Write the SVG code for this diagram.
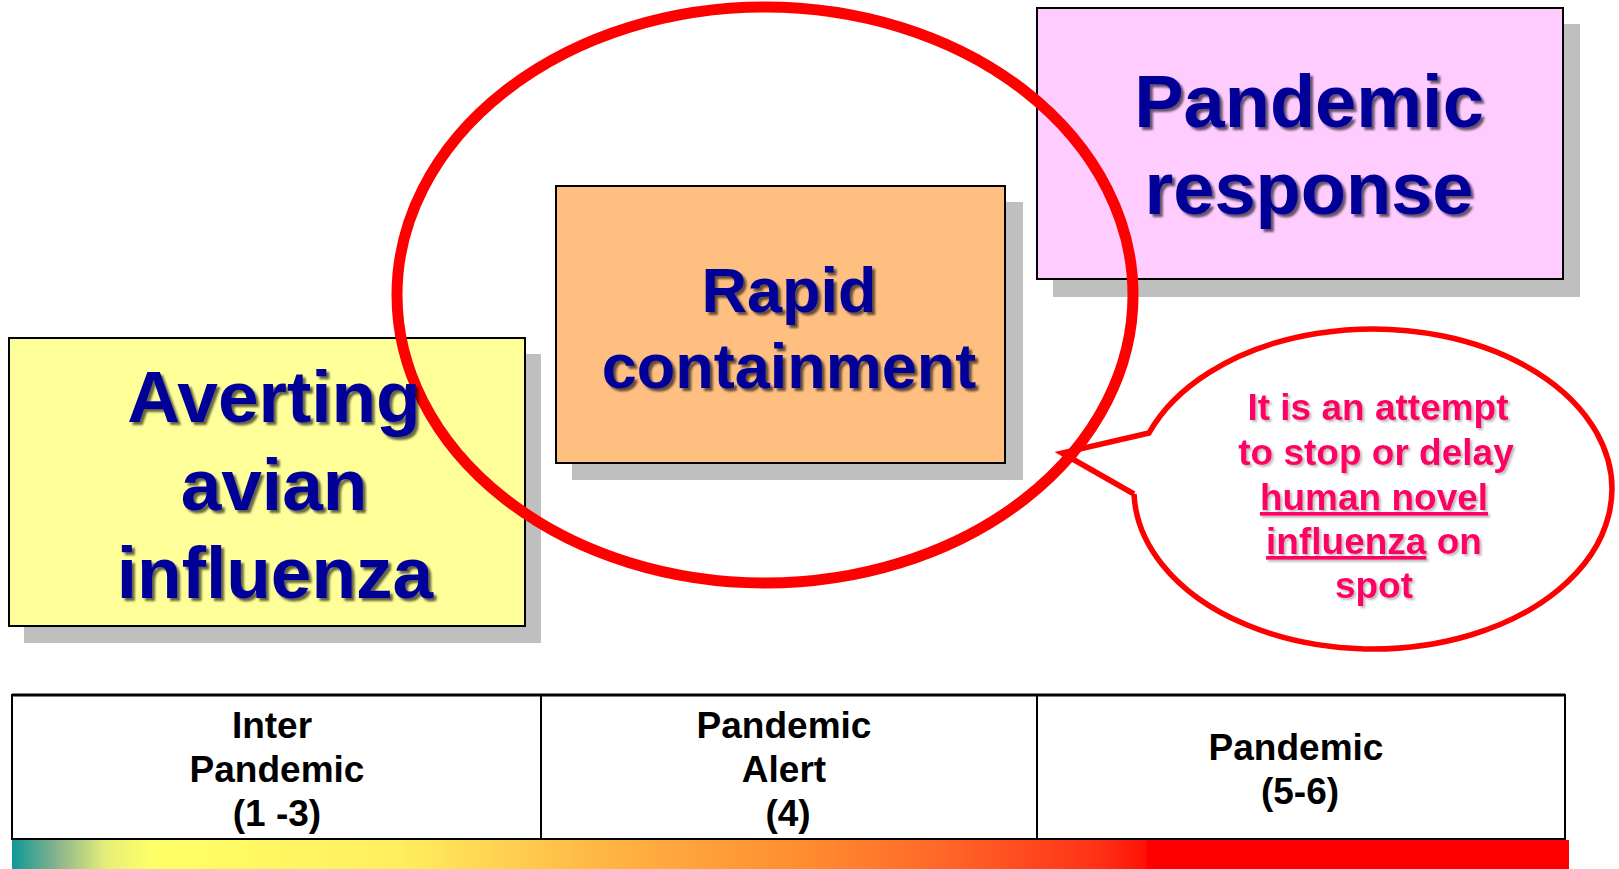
<svg xmlns="http://www.w3.org/2000/svg" width="1619" height="869" viewBox="0 0 1619 869">
  <defs>
    <filter id="navyShadow" x="-10%" y="-20%" width="120%" height="140%">
      <feDropShadow dx="3" dy="3" stdDeviation="1.3" flood-color="#000000" flood-opacity="0.6"/>
    </filter>
    <filter id="pinkShadow" x="-10%" y="-20%" width="120%" height="140%">
      <feDropShadow dx="2" dy="2" stdDeviation="1.2" flood-color="#777777" flood-opacity="0.5"/>
    </filter>
    <linearGradient id="phaseScale" gradientUnits="userSpaceOnUse" x1="12" y1="0" x2="1569" y2="0">
      <stop offset="0" stop-color="#0E9898"/>
      <stop offset="0.03" stop-color="#8DB58C"/>
      <stop offset="0.06" stop-color="#E4EE78"/>
      <stop offset="0.09" stop-color="#FFFF66"/>
      <stop offset="0.25" stop-color="#FFEE5E"/>
      <stop offset="0.38" stop-color="#FFB543"/>
      <stop offset="0.51" stop-color="#FF8C30"/>
      <stop offset="0.60" stop-color="#FF6628"/>
      <stop offset="0.70" stop-color="#FF2F16"/>
      <stop offset="0.728" stop-color="#FF1204"/>
      <stop offset="0.729" stop-color="#FF0000"/>
      <stop offset="1" stop-color="#FF0000"/>
    </linearGradient>
  </defs>
  <style>
    .shadow { fill: #BFBFBF; }
    .box { stroke: #000000; stroke-width: 2; }
    .title { font-family: "Liberation Sans", Arial, sans-serif; font-weight: bold; fill: #000099; text-anchor: middle; filter: url(#navyShadow); }
    .note { font-family: "Liberation Sans", Arial, sans-serif; font-weight: bold; font-size: 37px; fill: #FF0066; text-anchor: middle; filter: url(#pinkShadow); }
    .phase { font-family: "Liberation Sans", Arial, sans-serif; font-weight: bold; font-size: 37px; fill: #000000; text-anchor: middle; }
    .ring { fill: none; stroke: #FF0000; }
    .u { text-decoration: underline; }
  </style>

  <rect width="1619" height="869" fill="#FFFFFF"/>

  <!-- stage boxes -->
  <g id="averting-box">
    <rect class="shadow" x="24" y="354" width="517" height="289"/>
    <rect class="box" x="9" y="338" width="516" height="288" fill="#FFFF99"/>
  </g>
  <g id="response-box">
    <rect class="shadow" x="1053" y="24" width="527" height="273"/>
    <rect class="box" x="1037" y="8" width="526" height="271" fill="#FFCCFF"/>
  </g>
  <g id="containment-box">
    <rect class="shadow" x="572" y="202" width="451" height="278"/>
    <rect class="box" x="556" y="186" width="449" height="277" fill="#FFBF80"/>
  </g>

  <!-- connectors: highlight ring and its callout -->
  <g id="connectors">
    <ellipse class="ring" cx="765" cy="295" rx="368" ry="288" stroke-width="11"/>
    <path class="ring" stroke-width="5.5" stroke-linejoin="miter"
          d="M1134,494 L1062,453 L1149,433 A239,160 0 1 1 1134,494"/>
  </g>

  <!-- box labels -->
  <g id="averting-label">
    <text class="title" font-size="73" x="274" y="422">Averting</text>
    <text class="title" font-size="73" x="274" y="510">avian</text>
    <text class="title" font-size="73" x="275" y="598">influenza</text>
  </g>
  <g id="response-label">
    <text class="title" font-size="74" x="1309" y="127">Pandemic</text>
    <text class="title" font-size="74" x="1309" y="214">response</text>
  </g>
  <g id="containment-label">
    <text class="title" font-size="63" x="789" y="312">Rapid</text>
    <text class="title" font-size="63" x="789" y="388">containment</text>
  </g>

  <!-- callout text -->
  <g id="callout">
    <text class="note" x="1378" y="420">It is an attempt</text>
    <text class="note" x="1376" y="465">to stop or delay</text>
    <text class="note" x="1374" y="510"><tspan class="u">human novel</tspan></text>
    <text class="note" x="1374" y="554"><tspan class="u">influenza</tspan> on</text>
    <text class="note" x="1374" y="598">spot</text>
  </g>

  <!-- phase table -->
  <g id="phase-table">
    <rect x="12" y="695" width="1553" height="144" fill="#FFFFFF" stroke="#000000" stroke-width="2"/>
    <line x1="12" y1="695" x2="1565" y2="695" stroke="#000000" stroke-width="3"/>
    <line x1="541" y1="695" x2="541" y2="839" stroke="#000000" stroke-width="2"/>
    <line x1="1037" y1="695" x2="1037" y2="839" stroke="#000000" stroke-width="2"/>
  </g>
  <g id="phase-inter">
    <text class="phase" x="272" y="738">Inter</text>
    <text class="phase" x="277" y="782">Pandemic</text>
    <text class="phase" x="277" y="826">(1 -3)</text>
  </g>
  <g id="phase-alert">
    <text class="phase" x="784" y="738">Pandemic</text>
    <text class="phase" x="784" y="782">Alert</text>
    <text class="phase" x="788" y="826">(4)</text>
  </g>
  <g id="phase-pandemic">
    <text class="phase" x="1296" y="760">Pandemic</text>
    <text class="phase" x="1300" y="804">(5-6)</text>
  </g>

  <!-- severity bar -->
  <rect id="severity-bar" x="12" y="840" width="1557" height="29" fill="url(#phaseScale)"/>
</svg>
